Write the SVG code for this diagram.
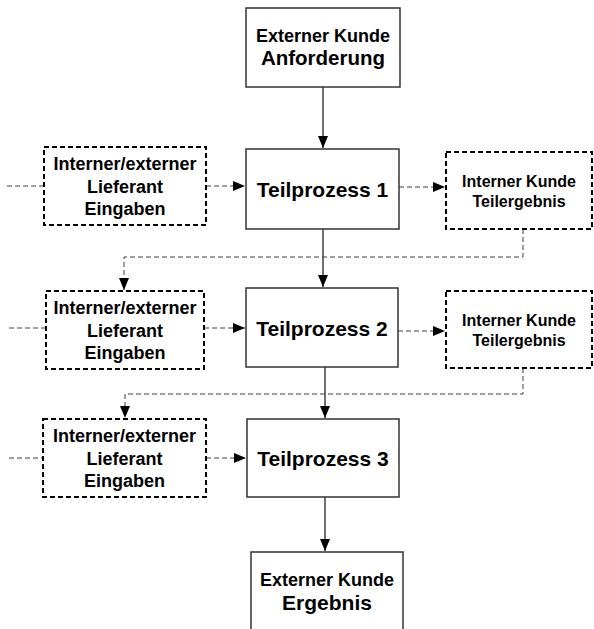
<svg xmlns="http://www.w3.org/2000/svg" width="594" height="629" viewBox="0 0 594 629">
  <style>
    text { font-family: "Liberation Sans", Arial, sans-serif; font-weight: bold; fill: #000; text-anchor: middle; }
    .box { fill: #fff; stroke: #333; stroke-width: 1.5; }
    .dbox { fill: #fff; stroke: #000; stroke-width: 2; stroke-dasharray: 5 3; }
    .flow { fill: none; stroke: #404040; stroke-width: 1.5; }
    .dflow { fill: none; stroke: #404040; stroke-width: 1; stroke-dasharray: 5 3; }
    .t16 { font-size: 16px; }
    .t18 { font-size: 18px; }
    .t21 { font-size: 21px; }
  </style>
  <defs>
    <marker id="arrow" markerUnits="userSpaceOnUse" markerWidth="13" markerHeight="11" refX="12" refY="5" orient="auto">
      <path d="M0,0 L12,5 L0,10 z" fill="#000"/>
    </marker>
  </defs>

  <rect width="594" height="629" fill="#fff"/>

  <!-- connectors -->
  <g id="connectors">
    <!-- main chain -->
    <path class="flow" d="M323,87 V148" marker-end="url(#arrow)"/>
    <path class="flow" d="M323,229 V287" marker-end="url(#arrow)"/>
    <path class="flow" d="M325,367 V418" marker-end="url(#arrow)"/>
    <path class="flow" d="M325,497 V551" marker-end="url(#arrow)"/>
    <!-- incoming supplier lines -->
    <path class="dflow" d="M7,186 H44"/>
    <path class="dflow" d="M9,328 H46"/>
    <path class="dflow" d="M9,458 H43"/>
    <!-- supplier inputs -->
    <path class="dflow" d="M206,186 H245" marker-end="url(#arrow)"/>
    <path class="dflow" d="M204,328 H245" marker-end="url(#arrow)"/>
    <path class="dflow" d="M206,458 H246" marker-end="url(#arrow)"/>
    <!-- partial results -->
    <path class="dflow" d="M399,187 H445" marker-end="url(#arrow)"/>
    <path class="dflow" d="M398,331 H445" marker-end="url(#arrow)"/>
    <!-- feedback of partial results -->
    <path class="dflow" d="M523,229 V257 H124 V290" marker-end="url(#arrow)"/>
    <path class="dflow" d="M523,368 V394 H125 V418" marker-end="url(#arrow)"/>
  </g>

  <g id="kunde-anforderung">
    <rect class="box" x="246" y="8" width="154" height="79"/>
    <text class="t18" x="323" y="42">Externer Kunde</text>
    <text x="323" y="65" style="font-size:20.5px">Anforderung</text>
  </g>

  <g id="lieferant-1">
    <rect class="dbox" x="44" y="147" width="162" height="78"/>
    <text class="t18" x="125" y="170">Interner/externer</text>
    <text class="t18" x="125" y="192.5">Lieferant</text>
    <text class="t18" x="125" y="215">Eingaben</text>
  </g>

  <g id="teilprozess-1">
    <rect class="box" x="246" y="149" width="153" height="80"/>
    <text class="t21" x="322.5" y="196.5">Teilprozess 1</text>
  </g>

  <g id="kunde-teil-1">
    <rect class="dbox" x="446" y="152" width="146" height="77"/>
    <text class="t16" x="519" y="186.5">Interner Kunde</text>
    <text class="t16" x="519" y="206.5">Teilergebnis</text>
  </g>

  <g id="lieferant-2">
    <rect class="dbox" x="46" y="291" width="158" height="78"/>
    <text class="t18" x="125" y="314">Interner/externer</text>
    <text class="t18" x="125" y="336.5">Lieferant</text>
    <text class="t18" x="125" y="359">Eingaben</text>
  </g>

  <g id="teilprozess-2">
    <rect class="box" x="246" y="288" width="152" height="79"/>
    <text class="t21" x="322" y="335.5">Teilprozess 2</text>
  </g>

  <g id="kunde-teil-2">
    <rect class="dbox" x="446" y="291" width="146" height="77"/>
    <text class="t16" x="519" y="325.5">Interner Kunde</text>
    <text class="t16" x="519" y="345.5">Teilergebnis</text>
  </g>

  <g id="lieferant-3">
    <rect class="dbox" x="43" y="419" width="163" height="78"/>
    <text class="t18" x="124.5" y="442">Interner/externer</text>
    <text class="t18" x="124.5" y="464.5">Lieferant</text>
    <text class="t18" x="124.5" y="487">Eingaben</text>
  </g>

  <g id="teilprozess-3">
    <rect class="box" x="247" y="419" width="152" height="78"/>
    <text class="t21" x="323" y="465.5">Teilprozess 3</text>
  </g>

  <g id="kunde-ergebnis">
    <rect class="box" x="251" y="552" width="152" height="100"/>
    <text class="t18" x="327" y="586">Externer Kunde</text>
    <text class="t21" x="327" y="610">Ergebnis</text>
  </g>
</svg>
